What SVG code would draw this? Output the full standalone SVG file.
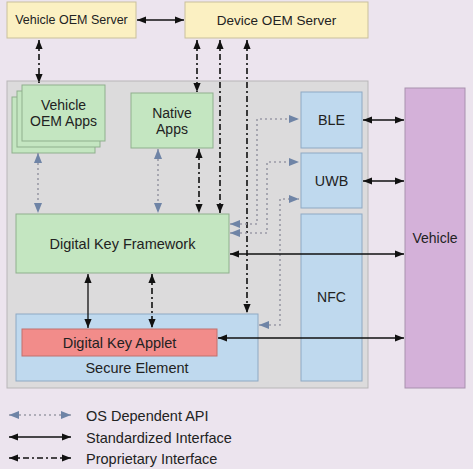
<svg xmlns="http://www.w3.org/2000/svg" width="473" height="469" viewBox="0 0 473 469">
<defs>
<style>
text{font-family:"Liberation Sans",Arial,sans-serif;fill:#222;text-anchor:middle;dominant-baseline:central}
.yel{fill:#fbf0c2;stroke:#c9c09c;stroke-width:1}
.grn{fill:#c4e6c1;stroke:#8fb08d;stroke-width:1}
.blu{fill:#bfd9ee;stroke:#8ea9c3;stroke-width:1}
.red{fill:#f28c8a;stroke:#c2706c;stroke-width:1}
.pur{fill:#d4b1d9;stroke:#a891ae;stroke-width:1}
.solid{stroke:#111;stroke-width:1.3;fill:none}
.prop{stroke:#111;stroke-width:1.6;fill:none;stroke-dasharray:6 3 2 3}
.os{stroke:#9a9aa6;stroke-width:1.6;fill:none;stroke-dasharray:2 3}
</style>
<marker id="ab" viewBox="0 0 10 8" refX="10" refY="4" markerWidth="9" markerHeight="7.5" markerUnits="userSpaceOnUse" orient="auto-start-reverse"><path d="M0,0 L10,4 L0,8 z" fill="#111"/></marker>
<marker id="ag" viewBox="0 0 10 8" refX="10" refY="4" markerWidth="10" markerHeight="8" markerUnits="userSpaceOnUse" orient="auto-start-reverse"><path d="M0,0 L10,4 L0,8 z" fill="#6f84a6"/></marker>
</defs>
<rect width="473" height="469" fill="#ece4ee"/>
<g id="platform"><rect x="7" y="81" width="361" height="307" fill="#dcdbdc" stroke="#b8b6b8"/></g>
<g id="vehicle-oem-server"><rect class="yel" x="7" y="2" width="129" height="36"/><text x="71.5" y="20" font-size="12.5">Vehicle OEM Server</text></g>
<g id="device-oem-server"><rect class="yel" x="185" y="2" width="183" height="36"/><text x="276.5" y="20" font-size="13.5">Device OEM Server</text></g>
<g id="vehicle-oem-apps">
<rect class="grn" x="12" y="97" width="83" height="56"/>
<rect class="grn" x="17" y="91" width="83" height="56"/>
<rect class="grn" x="22" y="85" width="83" height="56"/>
<text x="63.5" y="105" font-size="14">Vehicle</text><text x="63.5" y="121" font-size="14">OEM Apps</text></g>
<g id="native-apps"><rect class="grn" x="131" y="93" width="82" height="55"/><text x="172" y="113" font-size="14">Native</text><text x="172" y="129" font-size="14">Apps</text></g>
<g id="digital-key-framework"><rect class="grn" x="16" y="214" width="213" height="59"/><text x="122.5" y="244" font-size="14.5">Digital Key Framework</text></g>
<g id="secure-element"><rect class="blu" x="16" y="314" width="242" height="67"/><text x="137" y="368" font-size="14.5">Secure Element</text></g>
<g id="digital-key-applet"><rect class="red" x="22" y="329" width="195" height="27"/><text x="119.5" y="343" font-size="14.5">Digital Key Applet</text></g>
<g id="ble"><rect class="blu" x="301" y="92" width="61" height="56"/><text x="331.5" y="120" font-size="14.3">BLE</text></g>
<g id="uwb"><rect class="blu" x="301" y="153" width="61" height="55"/><text x="331.5" y="181" font-size="14.3">UWB</text></g>
<g id="nfc"><rect class="blu" x="301" y="214" width="61" height="167"/><text x="331.5" y="297" font-size="14">NFC</text></g>
<g id="vehicle"><rect class="pur" x="405" y="88" width="60" height="300"/><text x="435" y="238" font-size="14">Vehicle</text></g>
<g id="connectors">
<path class="solid" d="M137,20 H184" marker-start="url(#ab)" marker-end="url(#ab)"/>
<path class="prop" d="M39,40 V83" marker-start="url(#ab)" marker-end="url(#ab)"/>
<path class="prop" d="M197,40 V92" marker-start="url(#ab)" marker-end="url(#ab)"/>
<path class="prop" d="M220,40 V213" marker-start="url(#ab)" marker-end="url(#ab)"/>
<path class="prop" d="M247,40 V313" marker-start="url(#ab)" marker-end="url(#ab)"/>
<path class="prop" d="M199,149 V213" marker-start="url(#ab)" marker-end="url(#ab)"/>
<path class="prop" d="M152,274 V328" marker-start="url(#ab)" marker-end="url(#ab)"/>
<path class="solid" d="M88,274 V328" marker-start="url(#ab)" marker-end="url(#ab)"/>
<path class="os" d="M38,153 V213" marker-start="url(#ag)" marker-end="url(#ag)"/>
<path class="os" d="M158,149 V213" marker-start="url(#ag)" marker-end="url(#ag)"/>
<path class="os" d="M230,224 H257 V119 H299" marker-start="url(#ag)" marker-end="url(#ag)"/>
<path class="os" d="M230,233 H267 V162 H299" marker-start="url(#ag)" marker-end="url(#ag)"/>
<path class="os" d="M259,325 H280 V199 H299" marker-start="url(#ag)" marker-end="url(#ag)"/>
<path class="solid" d="M363,120 H404" marker-start="url(#ab)" marker-end="url(#ab)"/>
<path class="solid" d="M363,181 H404" marker-start="url(#ab)" marker-end="url(#ab)"/>
<path class="solid" d="M230,254 H404" marker-start="url(#ab)" marker-end="url(#ab)"/>
<path class="solid" d="M218,338 H404" marker-start="url(#ab)" marker-end="url(#ab)"/>
</g>
<g id="legend">
<path class="os" d="M9,415 H71" marker-start="url(#ag)" marker-end="url(#ag)"/>
<path class="solid" d="M9,437 H71" marker-start="url(#ab)" marker-end="url(#ab)"/>
<path class="prop" d="M9,458 H71" marker-start="url(#ab)" marker-end="url(#ab)"/>
<text x="86" y="416" font-size="14.5" style="text-anchor:start">OS Dependent API</text>
<text x="86" y="438" font-size="14.5" style="text-anchor:start">Standardized Interface</text>
<text x="86" y="459" font-size="14.5" style="text-anchor:start">Proprietary Interface</text>
</g>
</svg>
